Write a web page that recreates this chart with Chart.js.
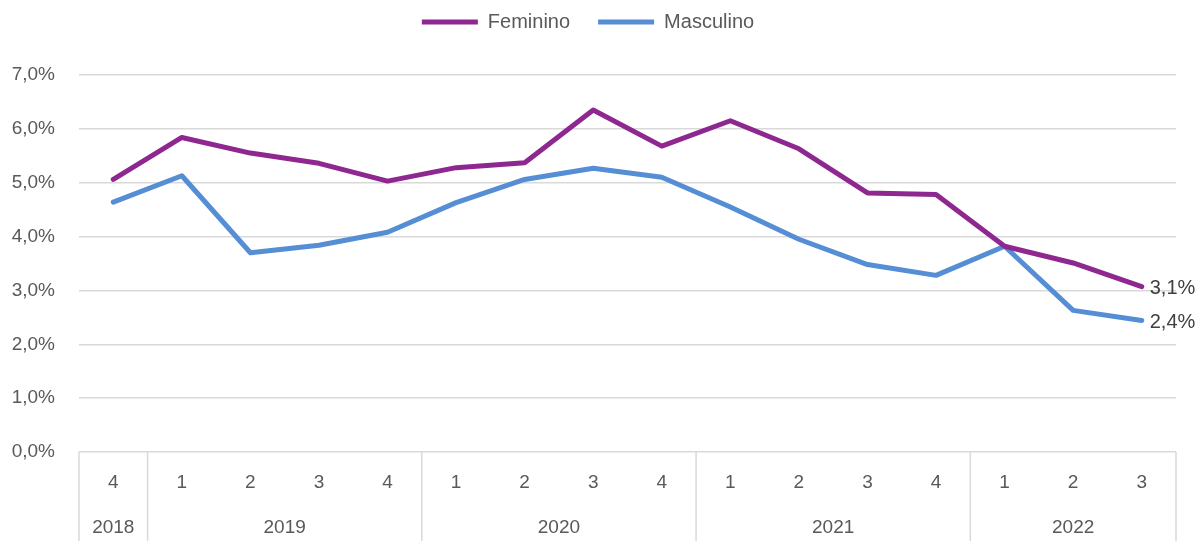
<!DOCTYPE html>
<html lang="pt">
<head>
  <meta charset="UTF-8" />
  <title>Feminino x Masculino</title>
  <script src="https://cdn.jsdelivr.net/npm/chart.js"></script>
  <style>
    body {
      margin: 0;
      background: #ffffff;
    }
    .wrap {
      width: 1197px;
      height: 541px;
    }
  </style>
</head>
<body>
  <div class="wrap">
    <canvas id="chart" width="1197" height="541"></canvas>
  </div>

  <script>
    // quarters on the axis and the year each one belongs to
    const quarters = ['4', '1', '2', '3', '4', '1', '2', '3', '4', '1', '2', '3', '4', '1', '2', '3'];
    const years = ['2018', '2019', '2019', '2019', '2019', '2020', '2020', '2020', '2020',
                   '2021', '2021', '2021', '2021', '2022', '2022', '2022'];

    // values in %
    const feminino = [5.06, 5.84, 5.55, 5.36, 5.03, 5.28, 5.37, 6.35, 5.68, 6.15, 5.63, 4.81, 4.78, 3.82, 3.51, 3.07];
    const masculino = [4.64, 5.13, 3.70, 3.84, 4.08, 4.63, 5.06, 5.27, 5.10, 4.55, 3.95, 3.48, 3.28, 3.82, 2.63, 2.44];

    const yTicks = [0, 1, 2, 3, 4, 5, 6, 7];

    const textColor = '#595959';
    const gridColor = '#d9d9d9';
    const fontFamily = '"Liberation Sans", Arial, sans-serif';

    const fmt = v => v.toFixed(1).replace('.', ',') + '%';

    // make the legend take a fixed band at the top
    const legendHeight = {
      id: 'legendHeight',
      beforeInit(chart) {
        const fit = chart.legend.fit;
        chart.legend.fit = function () {
          fit.call(this);
          this.height = 91;
        };
      }
    };

    // year row under the quarter labels, with separators
    const yearAxis = {
      id: 'yearAxis',
      afterDraw(chart) {
        const ctx = chart.ctx;
        const x = chart.scales.x;
        const half = (x.getPixelForValue(1) - x.getPixelForValue(0)) / 2;
        const top = chart.chartArea.bottom;
        const bottom = chart.height;

        // group consecutive quarters by year
        const groups = [];
        years.forEach((y, i) => {
          const g = groups[groups.length - 1];
          if (g && g.year === y) g.end = i;
          else groups.push({ year: y, start: i, end: i });
        });

        ctx.save();
        ctx.strokeStyle = gridColor;
        ctx.lineWidth = 1.5;
        ctx.fillStyle = textColor;
        ctx.font = '19px ' + fontFamily;
        ctx.textAlign = 'center';
        ctx.textBaseline = 'middle';
        groups.forEach((g, k) => {
          const left = x.getPixelForValue(g.start) - half;
          const right = x.getPixelForValue(g.end) + half;
          if (k === 0) {
            ctx.beginPath();
            ctx.moveTo(left, top);
            ctx.lineTo(left, bottom);
            ctx.stroke();
          }
          ctx.beginPath();
          ctx.moveTo(right, top);
          ctx.lineTo(right, bottom);
          ctx.stroke();
          ctx.fillText(g.year, (left + right) / 2, 528);
        });
        ctx.restore();
      }
    };

    // value labels on the last point of each line
    const endLabels = {
      id: 'endLabels',
      afterDatasetsDraw(chart) {
        const ctx = chart.ctx;
        ctx.save();
        ctx.fillStyle = '#404040';
        ctx.font = '20px ' + fontFamily;
        ctx.textAlign = 'left';
        ctx.textBaseline = 'middle';
        chart.data.datasets.forEach((ds, i) => {
          const meta = chart.getDatasetMeta(i);
          const last = meta.data.length - 1;
          const pt = meta.data[last];
          ctx.fillText(fmt(ds.data[last]), pt.x + 8, pt.y + 2);
        });
        ctx.restore();
      }
    };

    new Chart(document.getElementById('chart'), {
      type: 'line',
      data: {
        labels: quarters,
        datasets: [
          {
            label: 'Feminino',
            data: feminino,
            borderColor: '#8e278f',
            backgroundColor: '#8e278f',
            borderWidth: 5,
            borderCapStyle: 'round',
            borderJoinStyle: 'round',
            pointRadius: 0,
            tension: 0
          },
          {
            label: 'Masculino',
            data: masculino,
            borderColor: '#558ed5',
            backgroundColor: '#558ed5',
            borderWidth: 5,
            borderCapStyle: 'round',
            borderJoinStyle: 'round',
            pointRadius: 0,
            tension: 0
          }
        ]
      },
      options: {
        responsive: false,
        animation: false,
        layout: {
          padding: { left: 0, right: 21, top: -16, bottom: 0 }
        },
        plugins: {
          legend: {
            position: 'top',
            align: 'center',
            labels: {
              usePointStyle: true,
              pointStyle: 'line',
              pointStyleWidth: 56,
              boxHeight: 10,
              padding: 28,
              color: textColor,
              font: { family: fontFamily, size: 20 }
            }
          },
          tooltip: { enabled: false }
        },
        scales: {
          x: {
            offset: true,
            grid: { display: false, drawTicks: false },
            border: { display: false },
            ticks: {
              color: textColor,
              font: { family: fontFamily, size: 19 },
              padding: 19,
              maxRotation: 0,
              autoSkip: false
            },
            afterFit(scale) {
              scale.height = 89;
            }
          },
          y: {
            min: 0,
            max: 7,
            afterBuildTicks(scale) {
              scale.ticks = yTicks.map(v => ({ value: v }));
            },
            grid: {
              color: gridColor,
              lineWidth: 1.5,
              drawTicks: false
            },
            border: { display: false },
            ticks: {
              color: textColor,
              font: { family: fontFamily, size: 19 },
              padding: 24,
              callback: v => fmt(v)
            },
            afterFit(scale) {
              scale.width = 79;
            }
          }
        }
      },
      plugins: [legendHeight, yearAxis, endLabels]
    });
  </script>
</body>
</html>
